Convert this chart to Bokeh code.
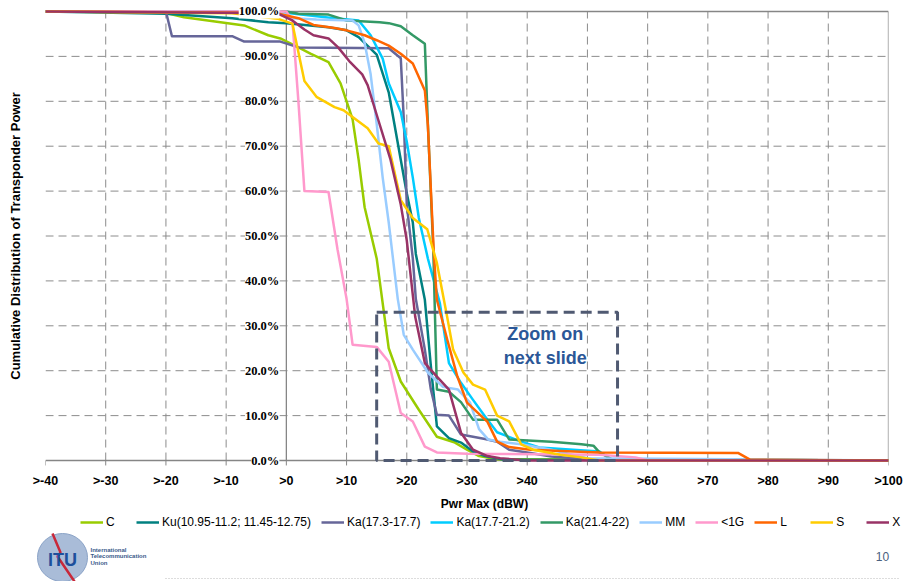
from bokeh.plotting import figure
from bokeh.layouts import column
from bokeh.models import (Range1d, FixedTicker, Legend, LegendItem, LabelSet,
                          Label, BoxAnnotation, ColumnDataSource)
from bokeh.core.properties import value
from bokeh.embed import file_html
from bokeh.resources import INLINE

# ---------------- data ----------------
x_ticks = [-40, -30, -20, -10, 0, 10, 20, 30, 40, 50, 60, 70, 80, 90, 100]
x_tick_labels = [">-40", ">-30", ">-20", ">-10", ">0", ">10", ">20", ">30", ">40",
                 ">50", ">60", ">70", ">80", ">90", ">100"]
y_ticks = [0, 10, 20, 30, 40, 50, 60, 70, 80, 90, 100]
y_tick_labels = ["0.0%", "10.0%", "20.0%", "30.0%", "40.0%", "50.0%", "60.0%",
                 "70.0%", "80.0%", "90.0%", "100.0%"]

series_names = ["C", "Ku(10.95-11.2; 11.45-12.75)", "Ka(17.3-17.7)", "Ka(17.7-21.2)",
                "Ka(21.4-22)", "MM", "<1G", "L", "S", "X"]
series_colors = ["#99cc00", "#008080", "#666699", "#00ccff", "#339966",
                 "#99ccff", "#ff99cc", "#ff6600", "#ffcc00", "#993366"]

c_x = [-40, -21, -17, -7, -3, -1, 2, 4, 7, 9, 11, 12, 13, 15, 17, 19, 22, 25, 28, 30, 32, 35, 100]
c_y = [100, 100, 98.7, 96.9, 94.7, 94, 92, 90.6, 88.7, 84, 76, 67, 56.4, 45, 25, 17.6, 11.3,
       5.3, 4, 2.4, 1, 0.3, 0]

ku_x = [-40, -20, -9, -3, 0, 7, 10, 12, 15, 17, 19, 20, 21, 21.5, 23, 24, 25, 27, 29, 31, 33, 36, 100]
ku_y = [100, 99.5, 98.5, 97.6, 97.4, 96.5, 95.8, 94.3, 90.4, 82, 67, 59.5, 53, 46, 35.8, 21,
        7.6, 5, 4, 2, 1, 0.2, 0]

ka1_x = [-40, -20, -19, -9, -7, -1, 2, 17, 19, 19.5, 20, 21, 21.5, 23, 24, 25, 27, 29, 31,
         33, 35, 37, 40, 44, 50, 100]
ka1_y = [100, 100, 94.5, 94.5, 93.3, 93.3, 92, 91.8, 89.6, 76, 57, 45, 36, 24.7, 15.8, 10.2,
         10, 5.8, 5.3, 4.8, 4.2, 2.4, 1.8, 0.9, 0.3, 0]

ka2_x = [-40, -2, 8, 12, 14, 16, 17, 19, 20, 21, 22, 23.5, 25.5, 27, 29, 31, 33, 35, 39, 42,
         52, 54, 100]
ka2_y = [100, 100, 98.5, 98, 94.7, 89.5, 84, 77.6, 71, 63, 54, 45, 35, 21.7, 17.3, 13.5,
         9.8, 6.3, 4.2, 2.9, 2, 0.2, 0]

ka3_x = [-40, 0, 2, 7, 10, 15.5, 17, 19, 21, 23, 23.5, 24.4, 25, 27, 29, 31, 35, 37, 44, 49,
         51, 52, 54, 100]
ka3_y = [100, 100, 99.5, 99.3, 98, 97.6, 97.4, 96.7, 94.7, 92.8, 75, 47, 15.8, 15.3, 13,
         9.1, 9.1, 4.7, 4.2, 3.6, 3.3, 1.8, 0.3, 0]

mm_x = [-40, -1, 1, 5, 11, 12, 13, 14, 15, 16, 17, 18.5, 19.5, 21, 23.5, 26, 28.5, 30.5,
        32, 33.5, 35.5, 39, 44, 50, 100]
mm_y = [100, 100, 98.5, 98.2, 98, 96.9, 93, 86, 75, 63, 53, 36, 28, 24.7, 19.6, 16.4,
        15.8, 12.9, 7, 4.7, 4.2, 3.6, 2.4, 0.5, 0]

g1_x = [-40, 0, 1, 2, 3, 7, 8.5, 10, 11, 15, 17, 19, 21, 23, 25, 30, 52, 58, 60, 100]
g1_y = [100, 100, 98, 80, 60, 59.8, 47, 36, 25.8, 25.3, 22, 10.6, 8.7, 3.1, 1.8, 1.5,
        1.3, 0.7, 0, 0]

l_x = [-40, -2, 2, 4.5, 8, 10, 13, 15, 17, 19, 21, 23, 23.5, 24.5, 25, 26.7, 28.4, 30,
       33.4, 35, 37, 40.5, 52, 75, 77, 100]
l_y = [100, 99.7, 98.5, 97, 96.3, 95.8, 94.7, 93.6, 92.4, 90.6, 88.4, 82.4, 74.7, 46,
       35.8, 27, 18.7, 12.9, 8.6, 4.2, 3, 2.4, 1.8, 1.7, 0.2, 0]

s_x = [-40, -9, -1.5, 1, 3, 5, 8, 9.5, 13.5, 15.3, 17, 19, 21, 23.4, 25, 26.7, 27.7, 29.4,
       31, 33, 35, 37, 39, 41, 45.5, 49, 52, 100]
s_y = [100, 99.6, 98.4, 97.3, 84.5, 81, 78.7, 78, 74, 70.6, 70, 58, 54, 51.5, 44, 32,
       24.7, 19.6, 16.9, 15.8, 10, 8.7, 3.6, 2.4, 1.3, 0.7, 0, 0]

xb_x = [-40, -1.5, 1, 3, 4.5, 7, 8.6, 10.6, 12.6, 13.5, 15, 17.3, 19, 20, 21.4, 23, 25, 27,
        29, 31, 33.4, 35.5, 40, 100]
xb_y = [100, 99.6, 98, 96, 94.7, 94, 92, 88.7, 86, 83.6, 77, 67, 57, 49, 32, 21.7, 18.7,
        15.8, 6.2, 2.4, 1, 0.5, 0, 0]

series_x = [c_x, ku_x, ka1_x, ka2_x, ka3_x, mm_x, g1_x, l_x, s_x, xb_x]
series_y = [c_y, ku_y, ka1_y, ka2_y, ka3_y, mm_y, g1_y, l_y, s_y, xb_y]

zoom_box = dict(left=15, right=55, bottom=0, top=33)
zoom_text = "Zoom on\nnext slide"
zoom_text_pos = (43, 25.6)

x_title = "Pwr Max (dBW)"
y_title = "Cumulative Distribution of Transponder Power"
page_number = "10"
org_name = "International\nTelecommunication\nUnion"
org_short = "ITU"

# ---------------- main figure ----------------
FONT = "Liberation Sans"
GRID = "#8c8c8c"
AXIS = "#868686"
X0, X1 = x_ticks[0], x_ticks[-1]
Y0, Y1 = y_ticks[0], y_ticks[-1]

p = figure(width=907, height=490, x_range=Range1d(X0, X1), y_range=Range1d(Y0 - 2, Y1 + 2),
           output_backend="svg", toolbar_location=None, title=None,
           min_border_left=45, min_border_right=19, min_border_top=2, min_border_bottom=20)
p.frame_align = False
p.background_fill_color = "white"
p.border_fill_color = "white"
p.outline_line_color = None
p.xgrid.visible = False
p.ygrid.visible = False

ya = p.yaxis[0]
ya.ticker = FixedTicker(ticks=[])
ya.axis_line_color = None
ya.major_tick_line_color = None
ya.minor_tick_line_color = None
ya.major_tick_out = 0
ya.major_label_standoff = 0
ya.axis_label = y_title
ya.axis_label_text_font = FONT
ya.axis_label_text_font_style = "bold"
ya.axis_label_text_font_size = "13px"
ya.axis_label_text_color = "black"
ya.axis_label_standoff = 23

xa = p.xaxis[0]
xa.ticker = FixedTicker(ticks=x_ticks)
xa.major_label_overrides = {t: s for t, s in zip(x_ticks, x_tick_labels)}
xa.axis_line_color = None
xa.major_tick_line_color = None
xa.minor_tick_line_color = None
xa.major_tick_in = 0
xa.major_tick_out = 0
xa.major_label_text_font = FONT
xa.major_label_text_font_style = "bold"
xa.major_label_text_font_size = "12.5px"
xa.major_label_text_color = "black"
xa.major_label_standoff = 4

# dashed grid (inside the 0..100 box only)
vx = [t for t in x_ticks if t not in (X0, 0, X1)]
p.segment(x0=vx, x1=vx, y0=[Y0] * len(vx), y1=[Y1] * len(vx),
          line_color=GRID, line_width=1, line_dash="8 5")
hy = [t for t in y_ticks if t not in (Y0, Y1)]
p.segment(x0=[X0] * len(hy), x1=[X1] * len(hy), y0=hy, y1=hy,
          line_color=GRID, line_width=1, line_dash="8 5")
# solid lines: top border, right border, x-axis, vertical axis at 0, tick marks
p.segment(x0=[X0, X1, X0, 0], x1=[X1, X1, X1, 0], y0=[Y1, Y0, Y0, Y0], y1=[Y1, Y1, Y0, Y1],
          line_color=AXIS, line_width=1.3)
p.segment(x0=x_ticks, x1=x_ticks, y0=[Y0] * len(x_ticks), y1=[Y0 - 1.1] * len(x_ticks),
          line_color=AXIS, line_width=1)

for name, xs, ys, col in zip(series_names, series_x, series_y, series_colors):
    p.line(xs, ys, line_color=col, line_width=2.5, line_join="round")

# y tick labels sitting on the x=0 axis with white boxes
ysrc = ColumnDataSource(dict(x=[0 for _ in y_ticks], y=y_ticks, text=y_tick_labels))
p.add_layout(LabelSet(x="x", y="y", text="text", source=ysrc, x_offset=-7,
                      text_align="right", text_baseline="middle",
                      text_font=FONT, text_font_style="bold", text_font_size="12.5px",
                      text_color="black", background_fill_color="white"))

# zoom box
p.add_layout(BoxAnnotation(**zoom_box, fill_alpha=0, line_color="#505a72", line_alpha=1,
                           line_width=3, line_dash="11 6"))
p.add_layout(Label(x=zoom_text_pos[0], y=zoom_text_pos[1], text=zoom_text,
                   text_align="center", text_baseline="middle", text_font=FONT,
                   text_font_style="bold", text_font_size="18px", text_color="#2b5797"))

# ---------------- footer (x title, legend, logo, page number) ----------------
f = figure(width=907, height=91, x_range=Range1d(0, 907), y_range=Range1d(581, 490),
           output_backend="svg", toolbar_location=None, title=None, min_border=0)
f.frame_align = False
f.axis.visible = False
f.grid.visible = False
f.outline_line_color = None
f.background_fill_color = "white"
f.border_fill_color = "white"

f.text(x=[484], y=[503], text=[x_title], text_align="center", text_baseline="middle",
       text_font=value(FONT), text_font_style="bold", text_font_size="12px",
       text_color="black")

items = []
for name, xs, ys, col in zip(series_names, series_x, series_y, series_colors):
    r = f.line(xs, ys, line_color=col, line_width=2.5)  # outside the footer's view
    items.append(LegendItem(label=name, renderers=[r]))
legend = Legend(items=items, orientation="horizontal", location=(80, 52),
                border_line_color=None, background_fill_alpha=0,
                label_text_font=FONT, label_text_font_size="12px", label_text_color="black",
                glyph_width=23, glyph_height=12, label_standoff=3, spacing=10,
                padding=0, margin=0)
f.add_layout(legend)

# logo
f.ellipse(x=[62], y=[557], width=50, height=48, fill_color="#a9bcd8", line_color="#8aa2c6")
f.line(x=[52, 60, 57, 74], y=[533, 552, 556, 581], line_color="#c8283a", line_width=2.5)
f.text(x=[62], y=[559], text=[org_short], text_align="center", text_baseline="middle",
       text_font=value(FONT), text_font_style="bold", text_font_size="18px",
       text_color="#1d4f9c")
f.text(x=[90], y=[556], text=[org_name], text_align="left", text_baseline="middle",
       text_font=value(FONT), text_font_style="bold", text_font_size="6px",
       text_color="#3a5a8a", text_line_height=1.1)
# page number and dotted rule
f.text(x=[882], y=[556], text=[page_number], text_align="center", text_baseline="middle",
       text_font=value(FONT), text_font_size="12px", text_color="#4a6080")
f.line(x=[165, 900], y=[578, 578], line_color="#bbbbbb", line_width=1, line_dash="1 2")

open("out.html", "w").write(file_html(column(p, f, spacing=0), INLINE))
